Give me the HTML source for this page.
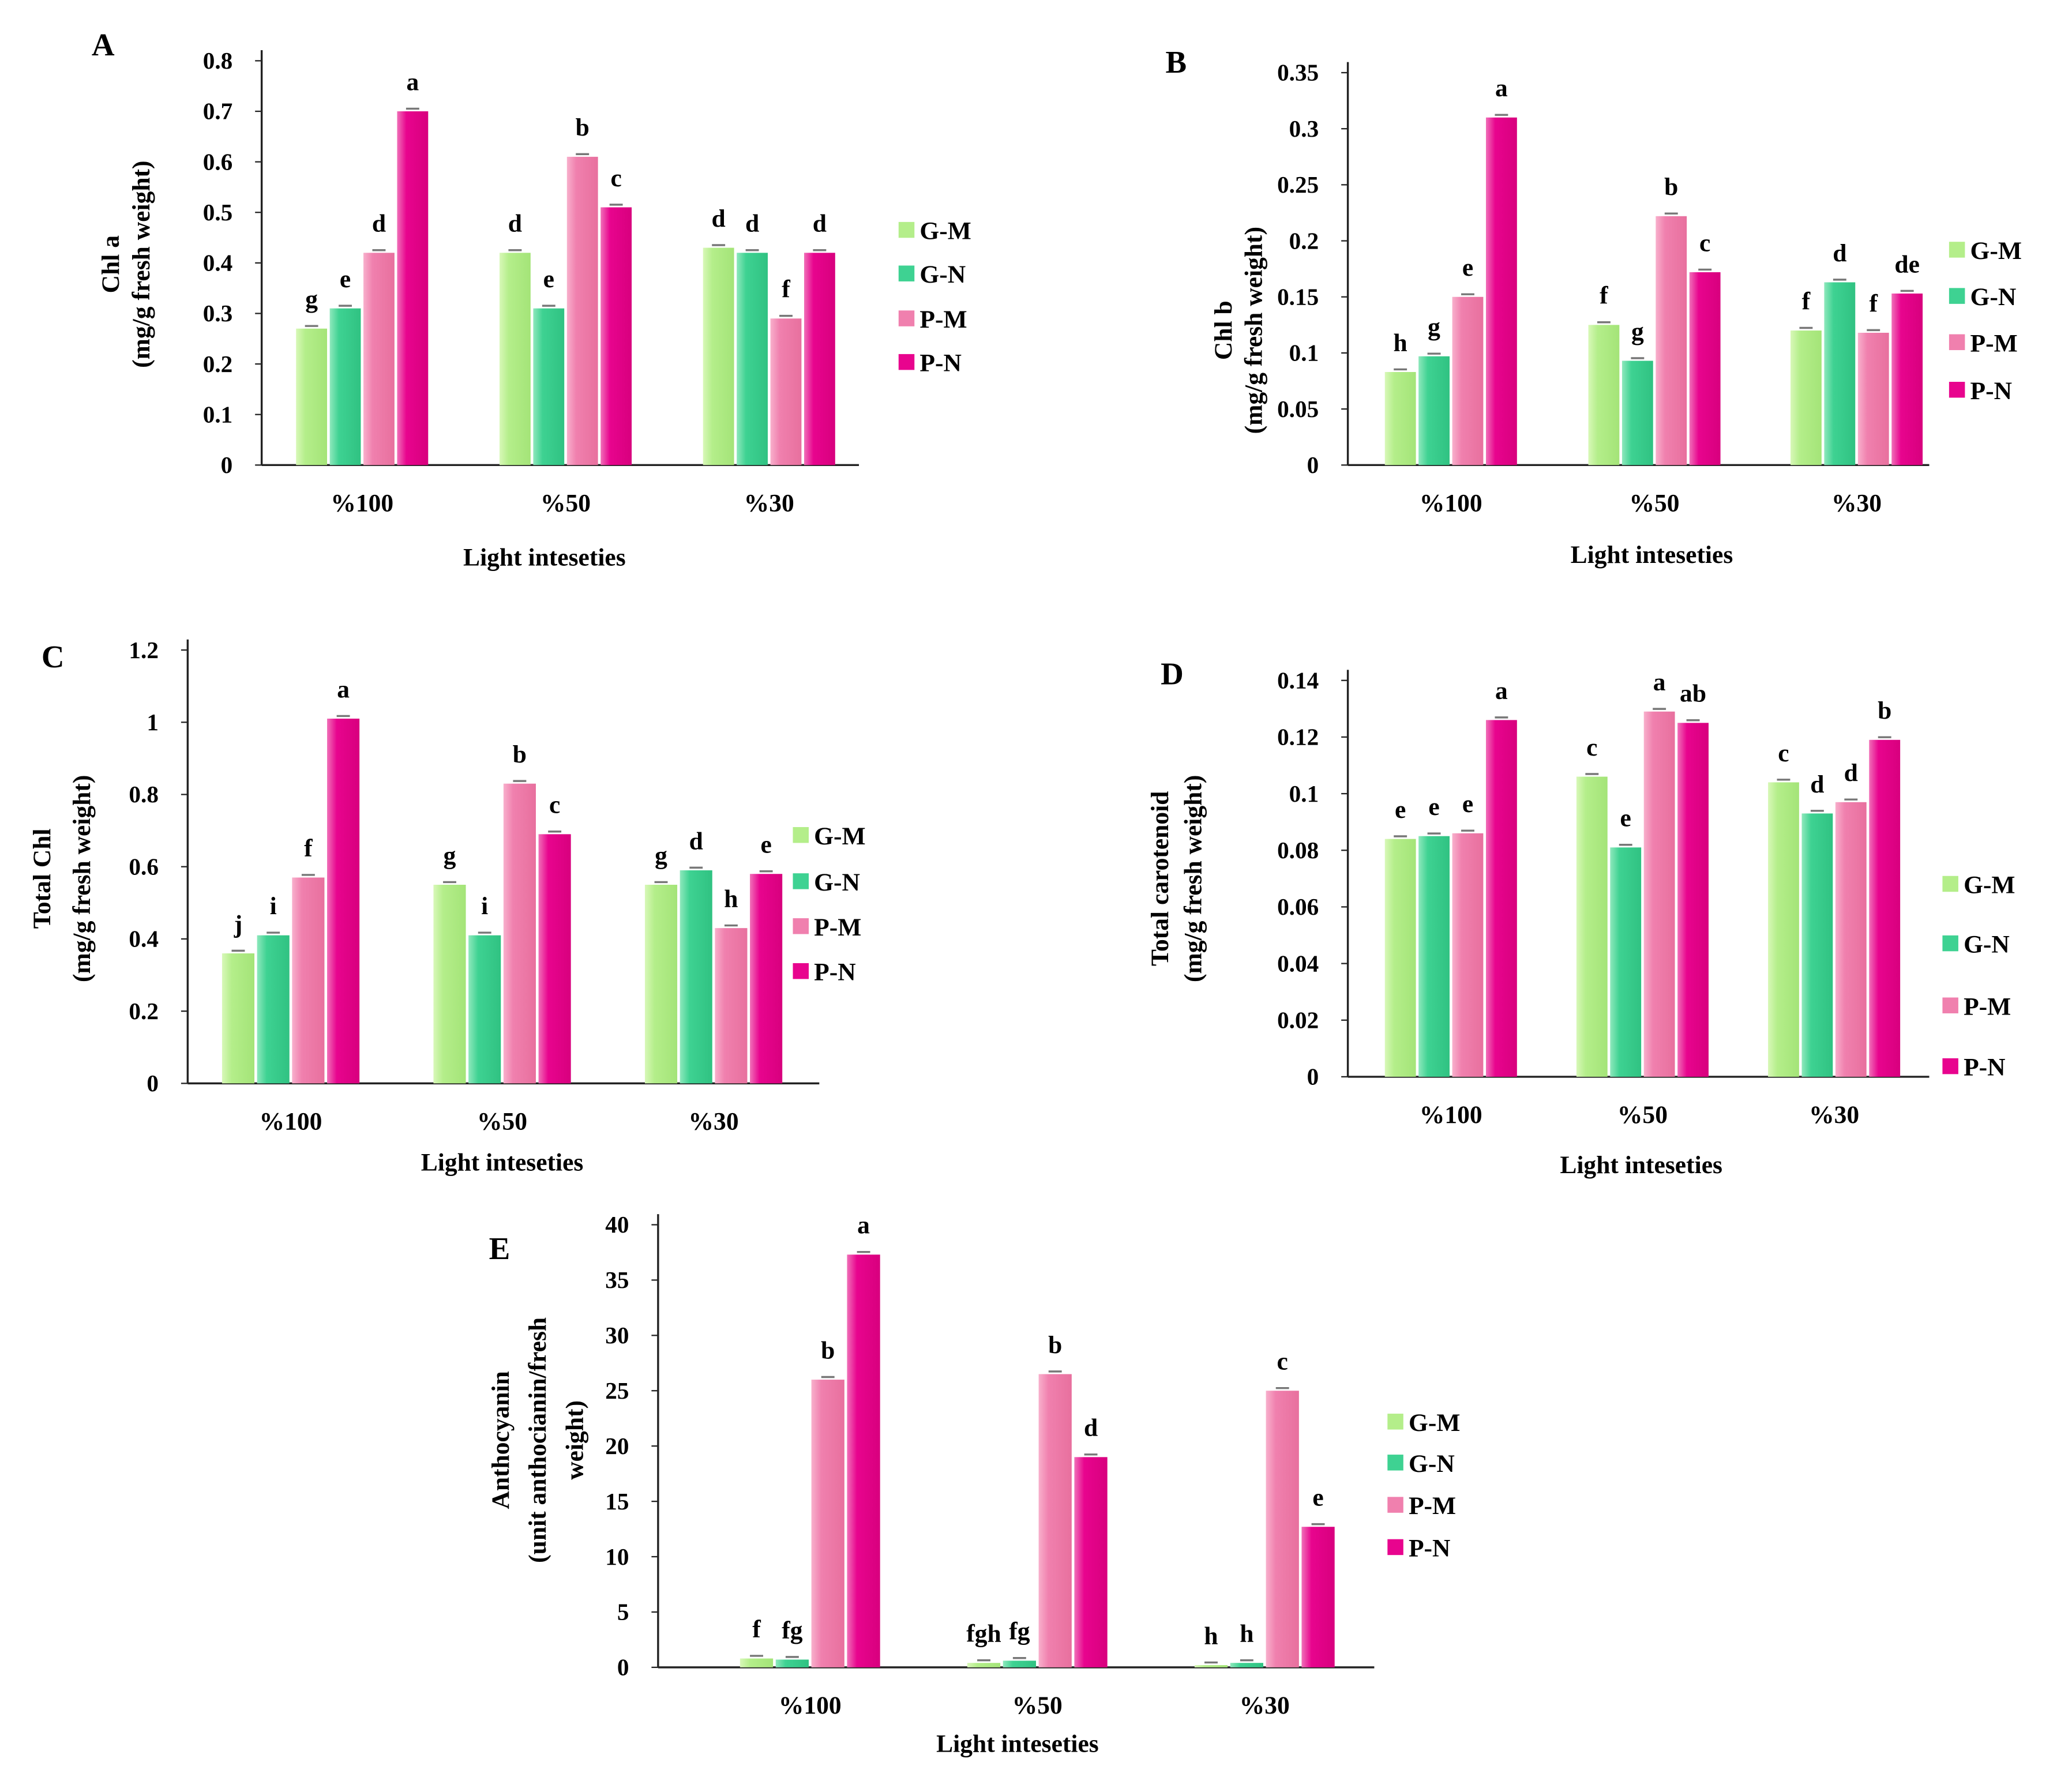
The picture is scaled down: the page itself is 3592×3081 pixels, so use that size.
<!DOCTYPE html>
<html><head><meta charset="utf-8">
<style>
html,body{margin:0;padding:0;background:#fff;}
svg{display:block;font-family:"Liberation Serif",serif;font-weight:bold;}
</style></head>
<body>
<svg id="fig" width="3592" height="3081" viewBox="0 0 1568 1345" xmlns="http://www.w3.org/2000/svg">
<defs>
<linearGradient id="gGM" x1="0" x2="1"><stop offset="0" stop-color="#d8f8b8"/><stop offset="0.3" stop-color="#b4ee8a"/><stop offset="1" stop-color="#a4e478"/></linearGradient>
<linearGradient id="gGN" x1="0" x2="1"><stop offset="0" stop-color="#8ee8bc"/><stop offset="0.3" stop-color="#3ed292"/><stop offset="1" stop-color="#30c282"/></linearGradient>
<linearGradient id="gPM" x1="0" x2="1"><stop offset="0" stop-color="#f8b0cc"/><stop offset="0.3" stop-color="#f080ae"/><stop offset="1" stop-color="#e8709e"/></linearGradient>
<linearGradient id="gPN" x1="0" x2="1"><stop offset="0" stop-color="#f070b8"/><stop offset="0.3" stop-color="#e8048e"/><stop offset="1" stop-color="#d8007e"/></linearGradient>
</defs>
</svg>
<script>
const categories = ["%100","%50","%30"];
const seriesNames = ["G-M","G-N","P-M","P-N"];
// Panel A
const aGM=[0.27,0.42,0.43], aGN=[0.31,0.31,0.42], aPM=[0.42,0.61,0.29], aPN=[0.70,0.51,0.42];
const aLetters=[["g","e","d","a"],["d","e","b","c"],["d","d","f","d"]];
const aTicks=["0","0.1","0.2","0.3","0.4","0.5","0.6","0.7","0.8"];
// Panel B
const bGM=[0.083,0.125,0.120], bGN=[0.097,0.093,0.163], bPM=[0.150,0.222,0.118], bPN=[0.310,0.172,0.153];
const bLetters=[["h","g","e","a"],["f","g","b","c"],["f","d","f","de"]];
const bTicks=["0","0.05","0.1","0.15","0.2","0.25","0.3","0.35"];
// Panel C
const cGM=[0.36,0.55,0.55], cGN=[0.41,0.41,0.59], cPM=[0.57,0.83,0.43], cPN=[1.01,0.69,0.58];
const cLetters=[["j","i","f","a"],["g","i","b","c"],["g","d","h","e"]];
const cTicks=["0","0.2","0.4","0.6","0.8","1","1.2"];
// Panel D
const dGM=[0.084,0.106,0.104], dGN=[0.085,0.081,0.093], dPM=[0.086,0.129,0.097], dPN=[0.126,0.125,0.119];
const dLetters=[["e","e","e","a"],["c","e","a","ab"],["c","d","d","b"]];
const dTicks=["0","0.02","0.04","0.06","0.08","0.1","0.12","0.14"];
// Panel E
const eGM=[0.8,0.4,0.2], eGN=[0.7,0.6,0.4], ePM=[26,26.5,25], ePN=[37.3,19,12.7];
const eLetters=[["f","fg","b","a"],["fgh","fg","b","d"],["h","h","c","e"]];
const eTicks=["0","5","10","15","20","25","30","35","40"];

const NS="http://www.w3.org/2000/svg";
const svg=document.getElementById("fig");
const fills=["url(#gGM)","url(#gGN)","url(#gPM)","url(#gPN)"];
const legendFills=["#b4ee8a","#3ed292","#f080ae","#e8048e"];
function mk(tag,attrs,parent,text){const e=document.createElementNS(NS,tag);for(const k in attrs)e.setAttribute(k,attrs[k]);if(text!==undefined)e.textContent=text;parent.appendChild(e);return e;}

function panel(p){
  const g=mk("g",{},svg);
  
  
  const yMax=parseFloat(p.ticks[p.ticks.length-1]);
  const y=v=>p.y0-(v/yMax)*(p.y0-p.yTop);
  // axes
  const ya=mk("line",{x1:p.x0,y1:p.yTop-8,x2:p.x0,y2:p.y0,stroke:"#222","stroke-width":1.5},g);
  
  const xa=mk("line",{x1:p.x0,y1:p.y0,x2:p.x1,y2:p.y0,stroke:"#222","stroke-width":1.5},g);
  
  p.ticks.forEach(t=>{
    const v=parseFloat(t);
    mk("line",{x1:p.x0-5,y1:y(v),x2:p.x0,y2:y(v),stroke:"#222","stroke-width":1},g);
    const tl=mk("text",{x:p.x0-22,y:y(v)+6,"text-anchor":"end","font-size":18},g,t);
    
  });
  const bw=p.bw;
  categories.forEach((c,i)=>{
    const cx=p.cx[i];
    const cl=mk("text",{x:cx,y:p.y0+35,"text-anchor":"middle","font-size":19},g,c);
    
    p.series.forEach((s,j)=>{
      const v=s[i];
      const bx=cx-2*bw+j*bw+1;
      const top=y(v);
      const r=mk("rect",{x:bx,y:top,width:bw-2,height:p.y0-top,fill:fills[j]},g);
      
      
      mk("line",{x1:bx+bw/2-6,y1:top-2,x2:bx+bw/2+4,y2:top-2,stroke:"#777","stroke-width":1.5},g);
      const lt=mk("text",{x:bx+bw/2-1,y:top-16,"text-anchor":"middle","font-size":19},g,p.letters[i][j]);
      
    });
  });
  // legend
  seriesNames.forEach((n,j)=>{
    const ly=p.legY[j];
    const sw=mk("rect",{x:p.legX,y:ly-7,width:12,height:12,fill:legendFills[j]},g);
    
    const lt=mk("text",{x:p.legX+16,y:ly+6,"font-size":19},g,n);
    
  });
  const lbl=mk("text",{x:p.lab[0],y:p.lab[1],"font-size":24,"text-anchor":"middle"},g,p.id.toUpperCase());
  
  const xt=mk("text",{x:p.xt[0],y:p.xt[1],"font-size":19,"text-anchor":"middle"},g,"Light inteseties");
  
  p.ytitle.forEach((line,k)=>{
    const yx=p.ytx[k], yy=p.yty;
    const tt=mk("text",{x:yx,y:yy,"font-size":19,"text-anchor":"middle",transform:`rotate(-90 ${yx} ${yy})`},g,line);
    
  });
}

panel({id:"a",x0:198,x1:650,yTop:46,y0:352,ticks:aTicks,series:[aGM,aGN,aPM,aPN],letters:aLetters,
  cx:[274,428,582],bw:25.5,legX:680,legY:[175,208,242,275],lab:[78,42],xt:[412,428],
  ytitle:["Chl a","(mg/g fresh weight)"],ytx:[90,113],yty:200});
panel({id:"b",x0:1020,x1:1460,yTop:55,y0:352,ticks:bTicks,series:[bGM,bGN,bPM,bPN],letters:bLetters,
  cx:[1098,1252,1405],bw:25.5,legX:1475,legY:[190,225,260,296],lab:[890,55],xt:[1250,426],
  ytitle:["Chl b","(mg/g fresh weight)"],ytx:[932,955],yty:250});
panel({id:"c",x0:142,x1:620,yTop:492,y0:820,ticks:cTicks,series:[cGM,cGN,cPM,cPN],letters:cLetters,
  cx:[220,380,540],bw:26.5,legX:600,legY:[633,668,702,736],lab:[40,505],xt:[380,886],
  ytitle:["Total Chl","(mg/g fresh weight)"],ytx:[38,68],yty:665});
panel({id:"d",x0:1020,x1:1460,yTop:515,y0:815,ticks:dTicks,series:[dGM,dGN,dPM,dPN],letters:dLetters,
  cx:[1098,1243,1388],bw:25.5,legX:1470,legY:[670,715,762,808],lab:[887,518],xt:[1242,888],
  ytitle:["Total carotenoid","(mg/g fresh weight)"],ytx:[884,909],yty:665});
panel({id:"e",x0:498,x1:1040,yTop:927,y0:1262,ticks:eTicks,series:[eGM,eGN,ePM,ePN],letters:eLetters,
  cx:[613,785,957],bw:27,legX:1050,legY:[1077,1108,1140,1172],lab:[378,953],xt:[770,1326],
  ytitle:["Anthocyanin","(unit anthocianin/fresh","weight)"],ytx:[385,413,441],yty:1090});
</script>
</body></html>
